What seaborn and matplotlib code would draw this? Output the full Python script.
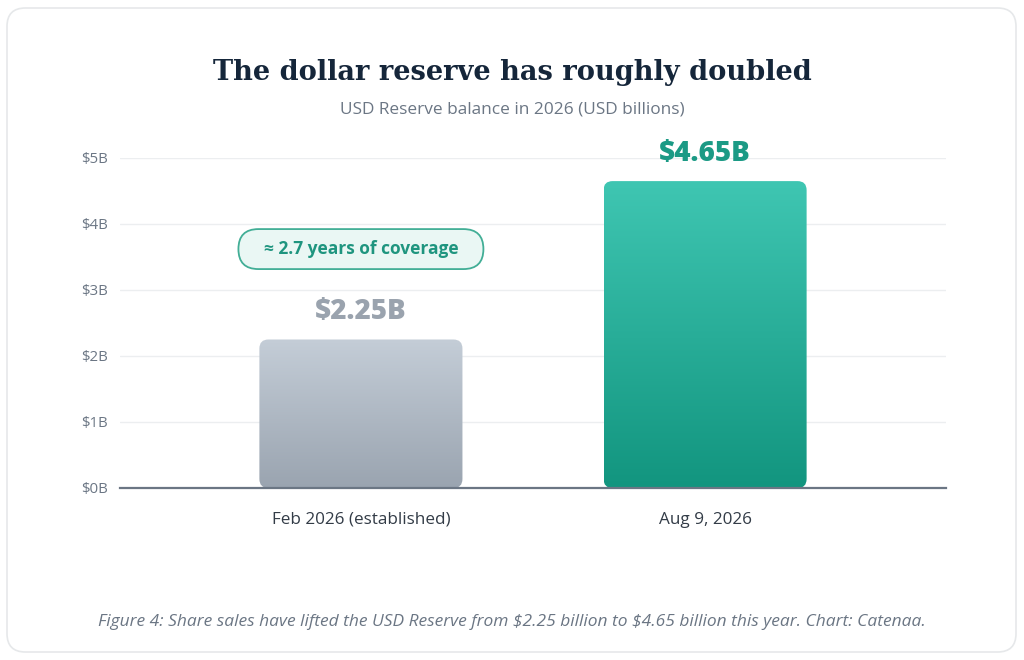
import numpy as np
import pandas as pd
import matplotlib
matplotlib.use("Agg")
import matplotlib.pyplot as plt
import seaborn as sns
from matplotlib.patches import FancyBboxPatch
from matplotlib.colors import LinearSegmentedColormap

# ---- data ----
categories = ["Feb 2026 (established)", "Aug 9, 2026"]
values = [2.25, 4.65]
value_labels = ["$2.25B", "$4.65B"]
y_ticks = [0, 1, 2, 3, 4, 5]
y_tick_labels = ["$0B", "$1B", "$2B", "$3B", "$4B", "$5B"]
title = "The dollar reserve has roughly doubled"
subtitle = "USD Reserve balance in 2026 (USD billions)"
annotation = "≈ 2.7 years of coverage"
annotation_y = 3.62
caption = ("Figure 4: Share sales have lifted the USD Reserve from $2.25 billion "
           "to $4.65 billion this year. Chart: Catenaa.")

# ---- styles ----
grad_colors = [("#c4cdd7", "#9aa4b0"), ("#3fc6b2", "#12957f")]
label_colors = ["#9aa3ae", "#1b9a85"]

sns.set_theme(style="white")
plt.rcParams["font.family"] = ["Open Sans", "DejaVu Sans"]

fig = plt.figure(figsize=(10.24, 6.6), dpi=100)
fig.patch.set_facecolor("white")

# card
card = FancyBboxPatch((7 / 1024, 8 / 660), 1009 / 1024, 644 / 660,
                      boxstyle="round,pad=0,rounding_size=0.018",
                      transform=fig.transFigure, facecolor="none",
                      edgecolor="#e6e8ea", linewidth=1.2, zorder=-5,
                      mutation_aspect=1024 / 660)
fig.patches.append(card)

ax = fig.add_axes([120 / 1024, (660 - 488) / 660, 826 / 1024, 330 / 660])
ax.set_facecolor("none")
ax.set_zorder(2)

df = pd.DataFrame({"cat": categories, "val": values})
sns.barplot(data=df, x="cat", y="val", ax=ax, width=0.59,
            color="#cccccc", saturation=1)

ax.set_xlim(-0.7, 1.7)
ax.set_ylim(0, 5)
ax.set_yticks(y_ticks)
ax.set_yticklabels(y_tick_labels)
ax.set_xlabel("")
ax.set_ylabel("")
ax.yaxis.grid(True, color="#eceef0", linewidth=1.0)
ax.set_axisbelow(True)
for s in ["top", "right", "left"]:
    ax.spines[s].set_visible(False)
ax.spines["bottom"].set_color("#6b7684")
ax.spines["bottom"].set_linewidth(1.6)
ax.spines["bottom"].set_zorder(5)
ax.tick_params(axis="y", length=0, pad=9, labelsize=10.8, labelcolor="#6b7684")
ax.tick_params(axis="x", length=0, pad=17, labelsize=12.3, labelcolor="#333c47")

fig.canvas.draw()
px_per_x = ax.transData.transform((1, 0))[0] - ax.transData.transform((0, 0))[0]
px_per_y = ax.transData.transform((0, 1))[1] - ax.transData.transform((0, 0))[1]
aspect = px_per_x / px_per_y
radius_x = 9 / px_per_x

for i, p in enumerate(list(ax.patches)):
    x0, w = p.get_x(), p.get_width()
    h = p.get_height()
    p.set_visible(False)
    clip = FancyBboxPatch((x0, 0), w, h,
                          boxstyle=f"round,pad=0,rounding_size={radius_x}",
                          mutation_aspect=aspect, facecolor="none",
                          edgecolor="none", transform=ax.transData)
    ax.add_patch(clip)
    cmap = LinearSegmentedColormap.from_list(f"g{i}", [grad_colors[i][1], grad_colors[i][0]])
    grad = np.linspace(0, 1, 256).reshape(-1, 1)
    im = ax.imshow(grad, extent=(x0, x0 + w, 0, h), origin="lower",
                   cmap=cmap, aspect="auto", zorder=2)
    im.set_clip_path(clip)
    ax.annotate(value_labels[i], xy=(x0 + w / 2, h), xytext=(0, 20),
                textcoords="offset points", ha="center", va="center",
                fontsize=20, fontweight="heavy", color=label_colors[i],
                annotation_clip=False, zorder=6, parse_math=False)

ax.set_xlim(-0.7, 1.7)
ax.set_ylim(0, 5)

# pill annotation above the first bar
pill_w = 245 / px_per_x
pill_h = 40 / px_per_y
pill = FancyBboxPatch((0 - pill_w / 2, annotation_y - pill_h / 2), pill_w, pill_h,
                      boxstyle=f"round,pad=0,rounding_size={20 / px_per_x}",
                      mutation_aspect=aspect, facecolor="#eaf7f4",
                      edgecolor="#42ae96", linewidth=1.3, zorder=6,
                      transform=ax.transData, clip_on=False)
ax.add_patch(pill)
ax.text(0, annotation_y, annotation, ha="center", va="center",
        fontsize=12.5, fontweight="bold", color="#1f957f", zorder=7)

fig.text(0.5, 1 - 72 / 660, title, ha="center", va="center",
         fontsize=19.6, fontweight="bold", color="#15263a",
         family=["DejaVu Serif"])
fig.text(0.5, 1 - 110 / 660, subtitle, ha="center", va="center",
         fontsize=12.4, color="#6b7684")
fig.text(0.5, 1 - 622 / 660, caption, ha="center", va="center",
         fontsize=12.5, style="italic", color="#6b7684", parse_math=False)

fig.savefig("out.png", dpi=100, facecolor="white")
